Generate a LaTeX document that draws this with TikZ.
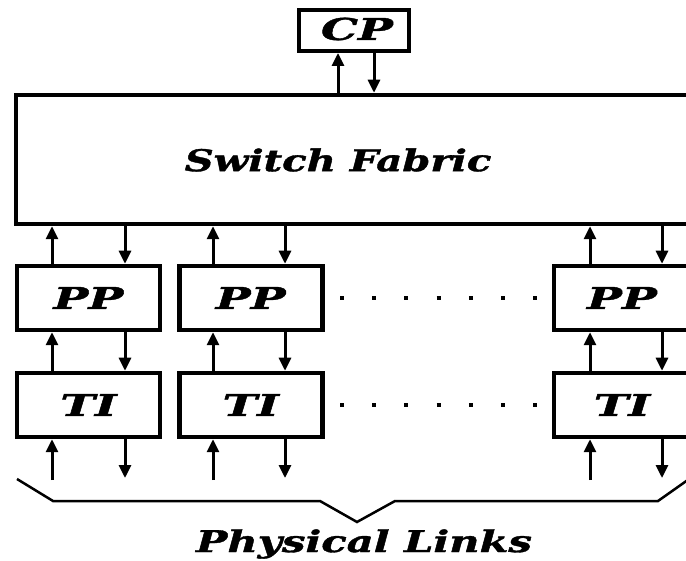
\documentclass[tikz,border=0pt]{standalone}
\usepackage{fontspec}
\newfontfamily\lblfont{DejaVu Serif}[BoldItalicFeatures={FakeBold=1.2}]
\usetikzlibrary{arrows.meta}
\newcommand{\wide}[1]{\scalebox{1.34}[1]{#1}}
\newcommand{\widest}[1]{\scalebox{1.39}[1]{#1}}
\newcommand{\wider}[1]{\scalebox{1.55}[1]{#1}}
\tikzset{
  box/.style={draw, line width=4.5pt, rectangle, inner sep=0pt, minimum width=143pt, minimum height=64pt},
  lbl/.style={font=\lblfont\bfseries\itshape\fontsize{30}{30}\selectfont, inner sep=0pt},
  arr/.style={line width=3pt, -{Triangle[length=13pt,width=12pt]}},
  brace/.style={line width=2.5pt, line join=miter},
  dots/.style={line width=4pt, dash pattern=on 4pt off 28.2pt}
}
\begin{document}
\begin{tikzpicture}[x=1pt,y=-1pt]
\useasboundingbox (0,0) rectangle (686,561);
\clip (0,0) rectangle (686,561);
% Control processor
\node[box, line width=4pt, minimum width=110pt, minimum height=41pt] (cp) at (354,30.5) {};
\node[lbl] (cpt) at (357,29) {\wider{CP}};
% Switch fabric
\node[box, minimum width=684pt, minimum height=129pt] (sf) at (358,159.5) {};
\node[lbl] (sft) at (338,160) {\wide{Switch Fabric}};
% PP row
\node[box] (pp1) at (88.5,298) {};
\node[box] (pp2) at (250.75,298) {};
\node[box] (pp3) at (625.5,298) {};
\node[lbl] at (pp1) {\wider{PP}};
\node[lbl] at (pp2) {\wider{PP}};
\node[lbl] at (622,298) {\wider{PP}};
% TI row
\node[box] (ti1) at (88.5,405) {};
\node[box] (ti2) at (250.75,405) {};
\node[box] (ti3) at (625.5,405) {};
\node[lbl] at (ti1) {\wider{TI}};
\node[lbl] at (ti2) {\wider{TI}};
\node[lbl] at (622,405) {\wider{TI}};
% column positions
\coordinate (u0) at (338,0);  \coordinate (d0) at (374,0);
\coordinate (u1) at (52,0);   \coordinate (d1) at (125,0);
\coordinate (u2) at (213,0);  \coordinate (d2) at (285,0);
\coordinate (u3) at (590,0);  \coordinate (d3) at (662,0);
% free ends of the physical links
\coordinate (b1u) at (52,480);  \coordinate (b1d) at (125,478);
\coordinate (b2u) at (213,480); \coordinate (b2d) at (285,478);
\coordinate (b3u) at (590,480); \coordinate (b3d) at (662,478);
% CP arrows
\draw[arr] (u0 |- sf.north) -- (u0 |- cp.south);
\draw[arr] (d0 |- cp.south) -- (d0 |- sf.north);
% arrows per column
\foreach \i in {1,2,3}{
  \draw[arr] (u\i |- pp\i.north) -- (u\i |- sf.south);
  \draw[arr] (d\i |- sf.south) -- (d\i |- pp\i.north);
  \draw[arr] (u\i |- ti\i.north) -- (u\i |- pp\i.south);
  \draw[arr] (d\i |- pp\i.south) -- (d\i |- ti\i.north);
  \draw[arr] (b\i u) -- (u\i |- ti\i.south);
  \draw[arr] (d\i |- ti\i.south) -- (b\i d);
}
% ellipsis dots
\draw[dots] (340,298) -- (545,298);
\draw[dots, line width=3.5pt] (340,405) -- (545,405);
% brace
\draw[brace] (17,479) -- (53,501) -- (320,501) -- (357,522) -- (395,501) -- (658,501) -- (692,477);
\node[lbl] (pl) at (364,544) {\widest{Physical Links}};
\end{tikzpicture}
\end{document}
